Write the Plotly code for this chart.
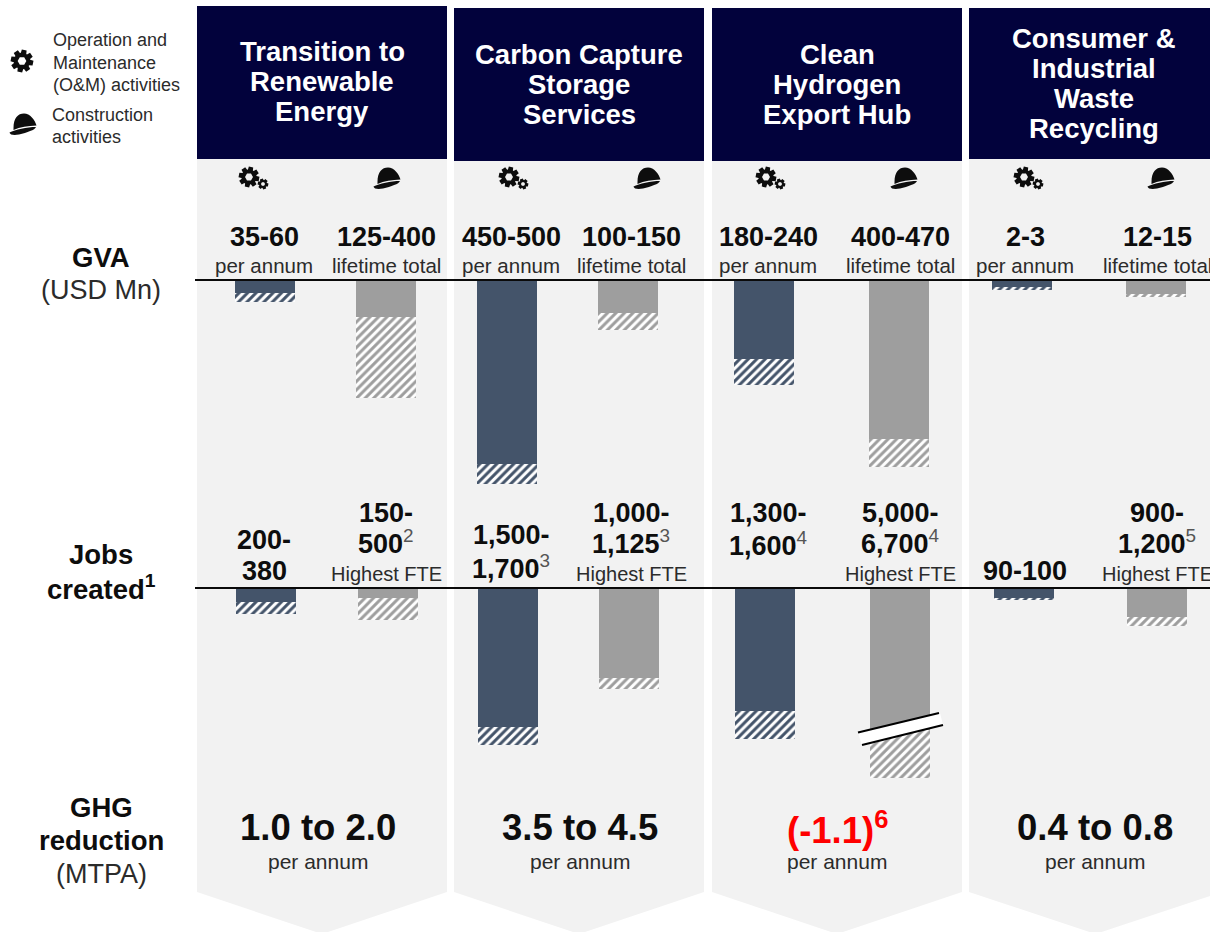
import math
import plotly.graph_objects as go

W, H = 1210, 932
FONT = "Liberation Sans"
NAVY = "#02023c"
PANEL = "#f2f2f2"
SLATE = "#44546a"
GREY = "#9e9e9e"
INK = "#0d0d0d"
LIGHT = "#2b2b2b"

# Values per project, in column order
projects = ["Transition to Renewable Energy", "Carbon Capture Storage Services",
            "Clean Hydrogen Export Hub", "Consumer & Industrial Waste Recycling"]
gva_om_low = [35, 450, 180, 2]
gva_om_high = [60, 500, 240, 3]
gva_con_low = [125, 100, 400, 12]
gva_con_high = [400, 150, 470, 15]
jobs_om_low = [200, 1500, 1300, 90]
jobs_om_high = [380, 1700, 1600, 100]
jobs_con_low = [150, 1000, 5000, 900]
jobs_con_high = [500, 1125, 6700, 1200]
ghg_labels = ["1.0 to 2.0", "3.5 to 4.5", "(-1.1)<sup>6</sup>", "0.4 to 0.8"]
jobs_om_notes = ["", "3", "4", ""]
jobs_con_notes = ["2", "3", "4", "5"]


def px(x):
    return x / W


def py(y):
    return 1 - y / H


fig = go.Figure()
shapes = []
notes = []


def text(x, y, s, size, bold=False, color=INK, anchor="center"):
    notes.append(dict(
        x=px(x), y=py(y), xref="paper", yref="paper", xanchor=anchor, yanchor="middle",
        text=f"<b>{s}</b>" if bold else s, showarrow=False, align=anchor,
        font=dict(family=FONT, size=size, color=color), borderpad=0,
    ))


def footnote(mark):
    # Thin, muted reference mark after a bold figure
    return f'<sup><span style="color:#555555">{mark}</span></sup>' if mark else ""


def path_shape(points_path, fill, layer="below", line_color=None, line_width=0):
    shapes.append(dict(
        type="path", xref="paper", yref="paper", path=points_path, fillcolor=fill,
        layer=layer, fillrule="evenodd",
        line=dict(color=line_color or fill, width=line_width),
    ))


def poly(points, close=True):
    body = " L".join(f"{px(x):.5f},{py(y):.5f}" for x, y in points)
    return "M" + body + (" Z" if close else "")


def gear(cx, cy, r, teeth=8):
    pts = []
    step = 2 * math.pi / teeth
    for i in range(teeth):
        a = i * step + 0.2
        for da, rr in ((-0.27, 0.72), (-0.17, 1.0), (0.17, 1.0), (0.27, 0.72)):
            pts.append((cx + rr * r * math.cos(a + da * step * 1.6),
                        cy + rr * r * math.sin(a + da * step * 1.6)))
    hole = [(cx + 0.38 * r * math.cos(k * math.pi / 3),
             cy + 0.38 * r * math.sin(k * math.pi / 3)) for k in range(6)]
    path_shape(poly(pts) + " " + poly(hole), INK, layer="above")


def helmet(cx, cy, s=1.0):
    def p(x, y):
        return f"{px(cx + x * s):.5f},{py(cy + y * s):.5f}"

    dome = (f"M{p(-9.5, 4)} C{p(-9.5, -6)} {p(-5, -10.5)} {p(1, -10.5)} "
            f"C{p(7, -10.5)} {p(12, -4)} {p(13.5, 1.5)} "
            f"C{p(5, 2)} {p(-3, 3)} {p(-9.5, 6)} Z")
    brim = (f"M{p(-13.5, 8.5)} C{p(-8, 5.5)} {p(4, 3)} {p(13, 3)} "
            f"C{p(12, 6)} {p(4, 8.5)} {p(-4, 10.5)} C{p(-9, 11.5)} {p(-13, 11)} {p(-13.5, 8.5)} Z")
    path_shape(dome, INK, layer="above")
    path_shape(brim, INK, layer="above")


# Panels with the arrow-shaped foot, and the navy headers
panel_edges = [(197, 447), (454, 704), (712, 962), (969, 1222)]
header_spans = [(6, 159), (8, 161), (8, 161), (8, 159)]
for (x0, x1), (top, bottom) in zip(panel_edges, header_spans):
    mid = (x0 + x1) / 2
    path_shape(poly([(x0, bottom), (x1, bottom), (x1, 892), (mid, 934), (x0, 892)]), PANEL)
    path_shape(poly([(x0, top), (x1, top), (x1, bottom), (x0, bottom)]), NAVY)

header_lines = [
    (322, [51, 81, 112], ["Transition to", "Renewable", "Energy"]),
    (579, [54.5, 84.5, 114.5], ["Carbon Capture", "Storage", "Services"]),
    (837, [54.5, 84.5, 114.5], ["Clean", "Hydrogen", "Export Hub"]),
    (1094, [38, 68, 99, 129], ["Consumer &", "Industrial", "Waste", "Recycling"]),
]
for cx, ys, lines in header_lines:
    for y, line in zip(ys, lines):
        text(cx, y, line, 27.5, bold=True, color="white")

# Legend
for y, line in zip((40, 63, 85), ("Operation and", "Maintenance", "(O&M) activities")):
    text(51.5, y, line, 18, color=LIGHT, anchor="left")
for y, line in zip((115, 137), ("Construction", "activities")):
    text(50.5, y, line, 18, color=LIGHT, anchor="left")
gear(22, 61, 11.5)
helmet(23, 124, 1.0)

# Icons above each project's two columns
om_icon_x = [249, 509, 766, 1024]
con_icon_x = [387, 647, 904, 1161]
for x in om_icon_x:
    gear(x, 177, 10.5)
    gear(x + 14, 184, 5.5, teeth=6)
for x in con_icon_x:
    helmet(x, 178, 1.0)

# Row titles
text(101, 257, "GVA", 27.5, bold=True)
text(101, 290, "(USD Mn)", 27, color=LIGHT)
text(101, 554, "Jobs", 27.5, bold=True)
text(101, 587, "created<sup>1</sup>", 27.5, bold=True)
text(101, 807, "GHG", 27.5, bold=True)
text(101, 840, "reduction", 27.5, bold=True)
text(101, 874, "(MTPA)", 27, color=LIGHT)

# Value labels above the GVA baseline
gva_om_x = [264, 511, 768, 1025]
gva_con_x = [386, 631, 900, 1157]
for i in range(4):
    text(gva_om_x[i], 237, f"{gva_om_low[i]}-{gva_om_high[i]}", 27, bold=True)
    text(gva_om_x[i], 265.5, "per annum", 20.5, color=LIGHT)
    text(gva_con_x[i], 237, f"{gva_con_low[i]}-{gva_con_high[i]}", 27, bold=True)
    text(gva_con_x[i], 265.5, "lifetime total", 20.5, color=LIGHT)

# Value labels above the jobs baseline
jobs_om_y = [(540, 571), (535, 567), (513, 544), (None, 571)]
for i in range(4):
    y0, y1 = jobs_om_y[i]
    if y0 is None:
        text(gva_om_x[i], y1, f"{jobs_om_low[i]}-{jobs_om_high[i]}", 27, bold=True)
    else:
        text(gva_om_x[i], y0, f"{jobs_om_low[i]:,}-", 27, bold=True)
        text(gva_om_x[i], y1, f"<b>{jobs_om_high[i]:,}</b>{footnote(jobs_om_notes[i])}", 27)
    text(gva_con_x[i], 513, f"{jobs_con_low[i]:,}-", 27, bold=True)
    text(gva_con_x[i], 542, f"<b>{jobs_con_high[i]:,}</b>{footnote(jobs_con_notes[i])}", 27)
    text(gva_con_x[i], 574, "Highest FTE", 20, color=LIGHT)

# Greenhouse gas row
ghg_x = [318, 580, 837, 1095]
for i in range(4):
    colour = "#ff0000" if i == 2 else INK
    text(ghg_x[i], 827.5, ghg_labels[i], 36.5, bold=True, color=colour)
    text(ghg_x[i], 861.5, "per annum", 21, color=LIGHT)

# The infographic has no common scale, so each bar sits on its own hidden axis
axis_count = 0


def range_bar(name, low, high, left, top, depth, colour):
    global axis_count
    axis_count += 1
    suffix = "" if axis_count == 1 else str(axis_count)
    xa, ya = f"x{suffix}", f"y{suffix}"
    fig.add_trace(go.Bar(x=[name], y=[low], width=1, xaxis=xa, yaxis=ya,
                         marker=dict(color=colour, line_width=0), showlegend=False))
    fig.add_trace(go.Bar(x=[name], y=[high - low], base=[low], width=1, xaxis=xa, yaxis=ya,
                         marker=dict(color=colour, line_width=0,
                                     pattern=dict(shape="/", fgcolor=colour, fgopacity=1,
                                                  bgcolor="white", fillmode="replace",
                                                  size=6, solidity=0.5)),
                         showlegend=False))
    fig.update_layout(**{
        f"xaxis{suffix}": dict(domain=[px(left), px(left + 60)], anchor=ya, visible=False,
                               type="category", range=[-0.5, 0.5], fixedrange=True),
        f"yaxis{suffix}": dict(domain=[py(top + depth), py(top)], anchor=xa, visible=False,
                               range=[high, 0], fixedrange=True),
    })


gva_om_left = [235, 477, 734, 992]
gva_con_left = [356, 598, 869, 1126]
jobs_om_left = [236, 478, 735, 994]
jobs_con_left = [358, 599, 870, 1127]
gva_om_depth = [22, 204, 105, 10]
gva_con_depth = [118, 50, 187, 17]
jobs_om_depth = [26, 157, 151, 12]
jobs_con_depth = [32, 101, 190, 38]
for i, name in enumerate(projects):
    range_bar(name, gva_om_low[i], gva_om_high[i], gva_om_left[i], 280, gva_om_depth[i], SLATE)
    range_bar(name, gva_con_low[i], gva_con_high[i], gva_con_left[i], 280, gva_con_depth[i], GREY)
    range_bar(name, jobs_om_low[i], jobs_om_high[i], jobs_om_left[i], 588, jobs_om_depth[i], SLATE)
    range_bar(name, jobs_con_low[i], jobs_con_high[i], jobs_con_left[i], 588, jobs_con_depth[i], GREY)

# Baselines of the two bar rows
for y in (280, 588):
    shapes.append(dict(type="line", xref="paper", yref="paper", x0=px(195), x1=1, y0=py(y), y1=py(y),
                       layer="above", line=dict(color="#0a0a0a", width=2)))

# Axis break across the tallest jobs bar
path_shape(poly([(858, 732), (940, 713), (943, 725), (862, 746)]), "white", layer="above")
for a, b in (((858, 732.5), (939, 713)), ((862, 745), (943, 725))):
    shapes.append(dict(type="line", xref="paper", yref="paper", x0=px(a[0]), y0=py(a[1]),
                       x1=px(b[0]), y1=py(b[1]), layer="above", line=dict(color="black", width=2)))

fig.update_layout(
    width=W, height=H, margin=dict(l=0, r=0, t=0, b=0), autosize=False,
    paper_bgcolor="white", plot_bgcolor="rgba(0,0,0,0)", barmode="overlay", bargap=0,
    showlegend=False, shapes=shapes, annotations=notes,
)
fig.write_html("out.html", config=dict(displayModeBar=False))
